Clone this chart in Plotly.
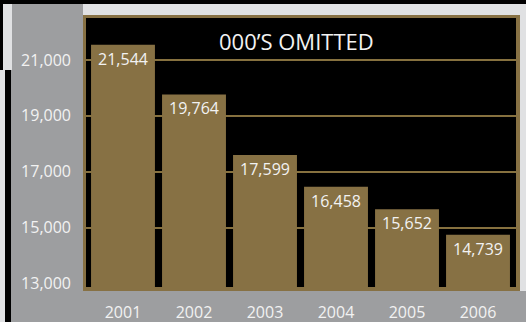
import plotly.graph_objects as go

# Values (thousands omitted)
years = ["2001", "2002", "2003", "2004", "2005", "2006"]
values = [21544, 19764, 17599, 16458, 15652, 14739]
tick_values = [13000, 15000, 17000, 19000, 21000]
grid_values = [15000, 17000, 19000, 21000]
title_text = "000\u2019S OMITTED"

W, H = 526, 322
M_L, M_R, M_T, M_B = 86, 10, 18, 35
PW, PH = W - M_L - M_R, H - M_T - M_B

GOLD = "#877144"
GRID = "#86713f"
PANEL = "#9d9ea0"
LIGHT = "#e0e1e3"
TEXT = "#f2f2f2"
FONT = "Open Sans"


def px_x(x):
    return (x - M_L) / PW


def px_y(y):
    return (H - M_B - y) / PH


def rect(x0, y0, x1, y1, color):
    return dict(type="rect", xref="paper", yref="paper", layer="below",
                x0=px_x(x0), x1=px_x(x1), y0=px_y(y1), y1=px_y(y0),
                fillcolor=color, line=dict(width=0))


fig = go.Figure()
fig.add_trace(go.Bar(
    x=years, y=values, width=0.9,
    marker=dict(color=GOLD, line=dict(width=0)),
    text=[f"{v:,}" for v in values],
    textposition="inside", insidetextanchor="end", constraintext="none",
    textfont=dict(family=FONT, size=16, color=TEXT),
    hoverinfo="skip",
))
# empty trace so the overlaid grid axis is rendered
fig.add_trace(go.Scatter(x=[], y=[], yaxis="y2", mode="lines",
                         hoverinfo="skip"))

fig.update_layout(
    width=W, height=H,
    margin=dict(l=M_L, r=M_R, t=M_T, b=M_B, pad=0),
    paper_bgcolor=PANEL, plot_bgcolor="#000000",
    showlegend=False,
    xaxis=dict(range=[-0.521, 5.535], showgrid=False, zeroline=False,
               showline=False, ticks="", ticklabelstandoff=14,
               automargin=False,
               tickfont=dict(family=FONT, size=16, color=TEXT)),
    yaxis=dict(range=[12870, 22500], tickvals=tick_values,
               ticktext=[f"{v:,}" for v in tick_values],
               showgrid=False, zeroline=False, showline=False, ticks="",
               ticklabelstandoff=14, automargin=False,
               tickfont=dict(family=FONT, size=16, color=TEXT)),
    yaxis2=dict(overlaying="y", matches="y", tickvals=grid_values,
                showticklabels=False, showgrid=True, gridcolor=GRID,
                gridwidth=2, zeroline=False, showline=False, ticks="",
                automargin=False),
    shapes=[
        # outer frame and light strips
        rect(0, 0, W, 4, "#000000"),
        rect(83, 4, W, 15, LIGHT),
        rect(520, 4, W, 291, LIGHT),
        rect(0, 0, 3, 70, "#000000"),
        rect(3, 4, 12, 70, LIGHT),
        rect(0, 70, 5, H, LIGHT),
        rect(5, 70, 11, H, "#000000"),
        # gold border round the plotting area
        rect(83, 15, 520, 18, GOLD),
        rect(83, 287, 520, 291, GOLD),
        rect(83, 15, 86, 291, GOLD),
        rect(516, 15, 520, 291, GOLD),
    ],
    annotations=[dict(
        text=title_text, xref="paper", yref="paper",
        x=px_x(296.5), y=px_y(40.5), xanchor="center", yanchor="middle",
        showarrow=False, font=dict(family=FONT, size=22, color=TEXT),
    )],
)

fig.write_html("out.html")
